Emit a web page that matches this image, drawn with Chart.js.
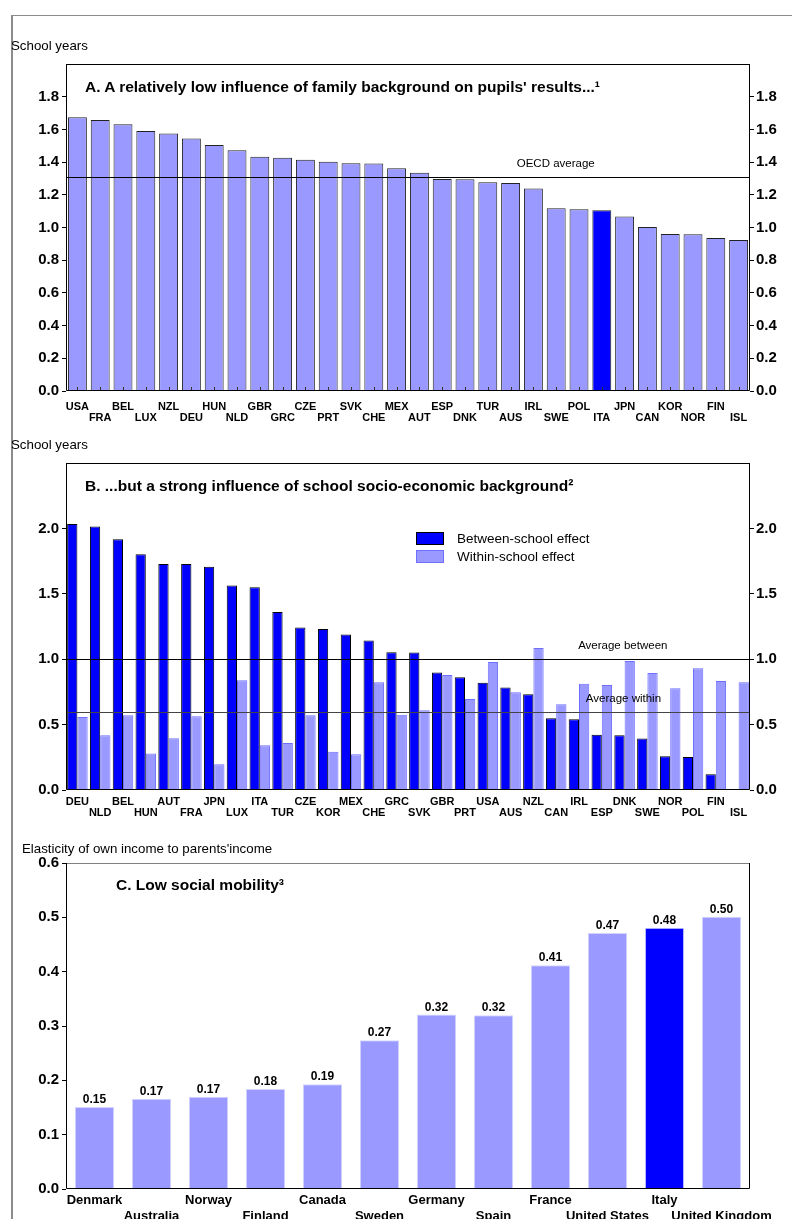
<!DOCTYPE html>
<html>
<head>
<meta charset="utf-8">
<script src="https://cdn.jsdelivr.net/npm/chart.js@4.4.0/dist/chart.umd.min.js"></script>
<style>
  body { margin: 0; background: #fff; font-family: "Liberation Sans", Arial, sans-serif; }
  #page { position: relative; width: 792px; height: 1219px; overflow: hidden; }
  .frame { position: absolute; left: 11px; top: 15px; width: 900px; height: 1300px;
           border-left: 2px solid #8c8c8c; border-top: 1px solid #8c8c8c; }
  canvas { position: absolute; left: 0; }
  .unit { position: absolute; font-size: 13.3px; line-height: 13px; color: #000; white-space: nowrap; }
  .title { position: absolute; font-size: 15.5px; line-height: 15px; font-weight: bold; color: #000; white-space: nowrap; }
</style>
</head>
<body>
<div id="page">
  <div class="frame"></div>
  <canvas id="chartA" width="792" height="380" style="top:50px"></canvas>
  <canvas id="chartB" width="792" height="380" style="top:450px"></canvas>
  <canvas id="chartC" width="792" height="368" style="top:851px"></canvas>

  <div class="unit" style="left:11px;top:39px">School years</div>
  <div class="title" style="left:85px;top:79px">A. A relatively low influence of family background on pupils' results...¹</div>
  <div class="unit" style="left:11px;top:438px">School years</div>
  <div class="title" style="left:85px;top:478px">B. ...but a strong influence of school socio-economic background²</div>
  <div class="unit" style="left:22px;top:842px">Elasticity of own income to parents'income</div>
  <div class="title" style="left:116px;top:877px">C. Low social mobility³</div>
</div>
<script>
// Panel A: effect of family background, school years
const catA = ['USA','FRA','BEL','LUX','NZL','DEU','HUN','NLD','GBR','GRC','CZE','PRT','SVK','CHE','MEX',
              'AUT','ESP','DNK','TUR','AUS','IRL','SWE','POL','ITA','JPN','CAN','KOR','NOR','FIN','ISL'];
const valA = [1.674,1.657,1.631,1.590,1.575,1.545,1.505,1.472,1.433,1.427,1.415,1.402,1.393,1.391,1.362,
              1.335,1.297,1.295,1.276,1.272,1.239,1.117,1.112,1.106,1.068,1.003,0.960,0.958,0.936,0.924];
const oecdAvgA = 1.31;

// Panel B: between- and within-school effects
const catB = ['DEU','NLD','BEL','HUN','AUT','FRA','JPN','LUX','ITA','TUR','CZE','KOR','MEX','CHE','GRC',
              'SVK','GBR','PRT','USA','AUS','NZL','CAN','IRL','ESP','DNK','SWE','NOR','POL','FIN','ISL'];
const betweenB = [2.033,2.015,1.918,1.803,1.727,1.727,1.706,1.563,1.551,1.360,1.242,1.230,1.189,1.143,1.054,
                  1.051,0.898,0.862,0.819,0.783,0.732,0.548,0.541,0.423,0.418,0.393,0.258,0.252,0.120,0.008];
const withinB = [0.558,0.418,0.571,0.280,0.395,0.563,0.196,0.839,0.342,0.360,0.571,0.293,0.273,0.824,0.576,
                 0.610,0.880,0.696,0.979,0.747,1.086,0.656,0.813,0.803,0.987,0.895,0.778,0.931,0.834,0.824];
const avgBetweenB = 1.0;
const avgWithinB = 0.6;

// Panel C: intergenerational income elasticity
const catC = ['Denmark','Australia','Norway','Finland','Canada','Sweden','Germany','Spain','France',
              'United States','Italy','United Kingdom'];
const valC = [0.151,0.166,0.170,0.184,0.193,0.274,0.321,0.320,0.412,0.471,0.481,0.501];

const LIGHT = '#9999ff';
const BLUE = '#0000ff';
const FONT = '"Liberation Sans", Arial, sans-serif';

Chart.defaults.font.family = FONT;
Chart.defaults.color = '#000';
Chart.defaults.animation = false;

// staggered two-row category labels
const twoRows = cats => cats.map((c, i) => i % 2 === 0 ? [c, ''] : ['', c]);

function yAxis(pos, max, step, width, hideTop, digits) {
  const isTop = v => hideTop && Math.abs(v - max) < 1e-9;
  return {
    position: pos, min: 0, max: max,
    afterFit: s => { s.width = width; },
    grid: { drawOnChartArea: false, drawTicks: true, tickLength: 4,
            color: c => (c.tick && isTop(c.tick.value)) ? 'rgba(0,0,0,0)' : '#000' },
    border: { display: false },
    ticks: {
      stepSize: step, padding: pos === 'left' ? 3 : 2, color: '#000',
      font: { size: 15, weight: 'bold' },
      callback: v => isTop(v) ? '' : v.toFixed(digits)
    }
  };
}

function xAxis(height, pad, size, lh) {
  return {
    afterFit: s => { s.height = height; },
    grid: { display: false, drawTicks: false },
    border: { display: false },
    ticks: { autoSkip: false, maxRotation: 0, minRotation: 0, padding: pad, color: '#000',
             font: { size: size, weight: 'bold', lineHeight: lh } }
  };
}

// frame, reference lines, legend, value labels
const panelPlugin = {
  id: 'panel',
  afterDatasetsDraw(chart, args, o) {
    const ctx = chart.ctx, a = chart.chartArea, y = chart.scales.y, x = chart.scales.x;
    ctx.save();
    if (o.innerTicks) {
      ctx.strokeStyle = '#333'; ctx.lineWidth = 1;
      x.ticks.forEach((t, i) => {
        const px = Math.round(x.getPixelForTick(i)) + 0.5;
        ctx.beginPath(); ctx.moveTo(px, a.bottom); ctx.lineTo(px, a.bottom - 4); ctx.stroke();
      });
    }
    (o.lines || []).forEach(l => {
      const py = Math.round(y.getPixelForValue(l.value)) + 0.5;
      ctx.strokeStyle = l.color; ctx.lineWidth = 1;
      ctx.beginPath(); ctx.moveTo(a.left, py); ctx.lineTo(a.right, py); ctx.stroke();
      ctx.fillStyle = '#000'; ctx.font = '11.5px ' + FONT;
      ctx.textAlign = 'center'; ctx.textBaseline = 'middle';
      ctx.fillText(l.label, a.left + l.at * (a.right - a.left), py - 14);
    });
    if (o.legend) {
      ctx.font = '13.5px ' + FONT; ctx.textAlign = 'left'; ctx.textBaseline = 'middle';
      chart.data.datasets.forEach((d, i) => {
        const ly = o.legend.y + i * 18;
        ctx.fillStyle = d.backgroundColor; ctx.fillRect(o.legend.x, ly, 28, 13);
        ctx.strokeStyle = d.borderColor; ctx.lineWidth = 1;
        ctx.strokeRect(o.legend.x + 0.5, ly + 0.5, 27, 12);
        ctx.fillStyle = '#000'; ctx.fillText(d.label, o.legend.x + 41, ly + 7);
      });
    }
    if (o.values) {
      ctx.font = 'bold 12px ' + FONT; ctx.textAlign = 'center'; ctx.textBaseline = 'bottom';
      ctx.fillStyle = '#000';
      chart.getDatasetMeta(0).data.forEach((el, i) => {
        ctx.fillText(chart.data.datasets[0].data[i].toFixed(2), el.x, el.y - 1);
      });
    }
    ctx.lineWidth = 1;
    ctx.strokeStyle = o.topColor || '#000';
    ctx.beginPath(); ctx.moveTo(a.left, a.top + 0.5); ctx.lineTo(a.right, a.top + 0.5); ctx.stroke();
    ctx.strokeStyle = '#000';
    ctx.beginPath();
    ctx.moveTo(a.left + 0.5, a.top); ctx.lineTo(a.left + 0.5, a.bottom - 0.5);
    ctx.lineTo(a.right - 0.5, a.bottom - 0.5); ctx.lineTo(a.right - 0.5, a.top);
    ctx.stroke();
    ctx.restore();
  }
};

new Chart(document.getElementById('chartA'), {
  type: 'bar',
  data: {
    labels: twoRows(catA),
    datasets: [{
      label: 'School years',
      data: valA,
      backgroundColor: catA.map(c => c === 'ITA' ? BLUE : LIGHT),
      borderColor: '#222', borderWidth: 1,
      barPercentage: 0.83, categoryPercentage: 1
    }]
  },
  options: {
    responsive: false,
    layout: { padding: { top: 14, left: 0, right: 0, bottom: 0 } },
    plugins: {
      legend: { display: false }, tooltip: { enabled: false },
      panel: { innerTicks: true, lines: [{ value: oecdAvgA, label: 'OECD average', at: 0.716, color: '#000' }] }
    },
    scales: {
      x: xAxis(39, 10, 11, 1.05),
      y: yAxis('left', 2.0, 0.2, 66, true, 1),
      y2: yAxis('right', 2.0, 0.2, 42, true, 1)
    }
  },
  plugins: [panelPlugin]
});

new Chart(document.getElementById('chartB'), {
  type: 'bar',
  data: {
    labels: twoRows(catB),
    datasets: [
      { label: 'Between-school effect', data: betweenB, backgroundColor: BLUE, borderColor: '#000',
        borderWidth: 1, barPercentage: 1, categoryPercentage: 0.9 },
      { label: 'Within-school effect', data: withinB, backgroundColor: LIGHT, borderColor: '#6f6fff',
        borderWidth: 1, barPercentage: 1, categoryPercentage: 0.9 }
    ]
  },
  options: {
    responsive: false,
    layout: { padding: { top: 13, left: 0, right: 0, bottom: 0 } },
    plugins: {
      legend: { display: false }, tooltip: { enabled: false },
      panel: {
        lines: [
          { value: avgBetweenB, label: 'Average between', at: 0.814, color: '#000' },
          { value: avgWithinB, label: 'Average within', at: 0.815, color: '#444' }
        ],
        legend: { x: 416, y: 82 }
      }
    },
    scales: {
      x: xAxis(40, 6, 11, 1.05),
      y: yAxis('left', 2.5, 0.5, 66, true, 1),
      y2: yAxis('right', 2.5, 0.5, 42, true, 1)
    }
  },
  plugins: [panelPlugin]
});

new Chart(document.getElementById('chartC'), {
  type: 'bar',
  data: {
    labels: twoRows(catC),
    datasets: [{
      label: 'Elasticity',
      data: valC,
      backgroundColor: catC.map(c => c === 'Italy' ? BLUE : LIGHT),
      borderColor: '#d4d4ff', borderWidth: 1,
      barPercentage: 0.69, categoryPercentage: 1
    }]
  },
  options: {
    responsive: false,
    layout: { padding: { top: 12, left: 0, right: 42, bottom: 0 } },
    plugins: {
      legend: { display: false }, tooltip: { enabled: false },
      panel: { values: true, topColor: '#808080' }
    },
    scales: {
      x: xAxis(30, 4, 13, 1.2),
      y: yAxis('left', 0.6, 0.1, 66, false, 1)
    }
  },
  plugins: [panelPlugin]
});
</script>
</body>
</html>
